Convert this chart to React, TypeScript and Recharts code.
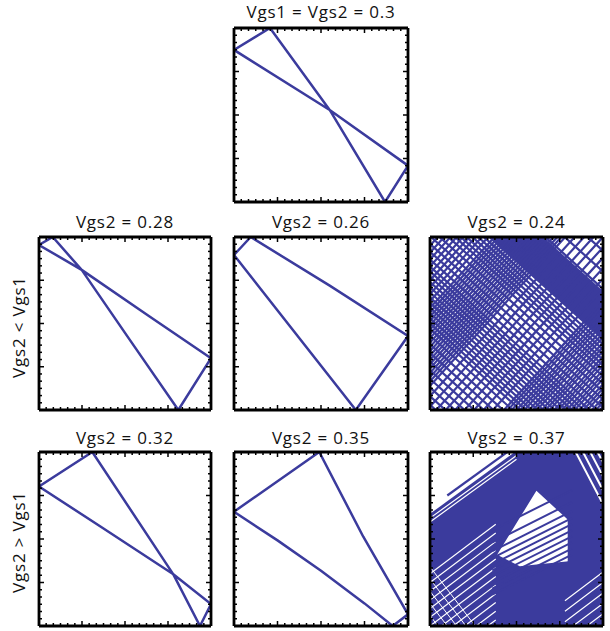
import { Area, ComposedChart, Line, XAxis, YAxis } from 'recharts'

const BLUE = '#3b3b9d'
const FONT = '"Open Sans", sans-serif'

// 24 small tick divisions on each side, every 6th one longer
const MINOR_TICKS = Array.from({ length: 25 }, (_, i) => i / 24)

// stable cases: closed orbit [x, y] on the normalised axes
const ORBIT_030 = [[0, 0.874], [0.207, 1], [0.55, 0.529], [0.868, 0], [1, 0.209], [0.55, 0.529], [0, 0.874]]
const ORBIT_028 = [[0, 0.954], [0.08, 1], [0.248, 0.81], [0.522, 0.414], [0.81, 0], [1, 0.299], [0.645, 0.539], [0.248, 0.81], [0, 0.954]]
const ORBIT_026 = [[0, 0.896], [0.096, 1], [0.55, 0.719], [1, 0.428], [0.7, 0], [0, 0.896]]
const ORBIT_032 = [[0, 0.802], [0.31, 1], [0.781, 0.297], [0.936, 0], [1, 0.126], [0.781, 0.297], [0.355, 0.573], [0, 0.802]]
const ORBIT_035 = [[0, 0.657], [0.49, 1], [0.743, 0.513], [1, 0.067], [0.912, 0], [0.75, 0.13], [0.5, 0.317], [0.25, 0.492], [0, 0.657]]

// Vgs2 = 0.24: intercepts of the falling (slope -0.9) and rising (slope 1.1) traces
const FALLING_024 = [
  0.03, 0.08, 0.13, 0.18, 0.23, 0.28, 0.33, 0.38, 0.43,
  0.47, 0.5, 0.53, 0.56, 0.59, 0.62, 0.65, 0.68, 0.71, 0.74, 0.77, 0.8, 0.83,
  0.87, 0.915, 0.96, 1.005, 1.05, 1.095,
  1.13, 1.16, 1.19, 1.22, 1.25, 1.28,
  1.31, 1.325, 1.34, 1.355, 1.37, 1.385, 1.4, 1.415, 1.43, 1.445, 1.46, 1.475, 1.49, 1.505,
  1.52, 1.535, 1.55, 1.565, 1.58, 1.6,
  1.7, 1.82,
]
const RISING_024 = [
  -1.08, -1.055, -1.03, -1.0, -0.975, -0.95, -0.92, -0.895, -0.87, -0.84, -0.815, -0.79,
  -0.76, -0.735, -0.71, -0.68, -0.655, -0.63, -0.6, -0.575, -0.55, -0.52, -0.495, -0.47,
  -0.4, -0.34, -0.28, -0.22, -0.16, -0.1, -0.04, 0.02, 0.08,
  0.14, 0.165, 0.19, 0.215, 0.24, 0.265, 0.29, 0.315, 0.34, 0.365, 0.39, 0.415, 0.44,
  0.465, 0.49, 0.515, 0.54, 0.565, 0.59,
  0.63, 0.67, 0.71, 0.75, 0.79, 0.83, 0.87, 0.91, 0.95,
]

// Vgs2 = 0.37: covered region [x, low, high] and the empty core
const COVER_037 = [[0, 0, 0.645], [0.49, 0, 1], [1, 0, 1]]
const CORE_037 = [[0.388, 0.41, 0.41], [0.519, 0.343, 0.622], [0.615, 0.353, 0.777], [0.788, 0.371, 0.619], [0.796, 0.372, 0.61]]
const EDGE_037 = [0.678]
const EDGE_GAPS_037 = [0.62, 0.598]
const LOWLEFT_GAPS_037 = [-0.3, -0.25, -0.2, -0.15, -0.1, -0.05, 0.0, 0.05, 0.1, 0.15, 0.2, 0.25, 0.3]
const LOWLEFT_CROSS_037 = [0.06, 0.13, 0.2, 0.27, 0.34]
const UPRIGHT_GAPS_037 = [2.6, 2.68, 2.76, 2.84, 2.92]
const LOWRIGHT_GAPS_037 = [-0.68, -0.62, -0.56, -0.5, -0.44]
const CORE_TRACES_037 = [0, 0.035, 0.07, 0.105, 0.14, 0.175, 0.21, 0.25, 0.3, 0.37]

type Pt = { x: number; y: number | null }

const polyline = (pts: number[][]): Pt[] => pts.map(([x, y]) => ({ x, y }))

// straight traces y = c + slope * x, broken apart with a null
const traces = (cs: number[], slope: number, x0 = -0.3, x1 = 1.3): Pt[] =>
  cs.flatMap((c) => [
    { x: x0, y: c + slope * x0 },
    { x: x1, y: c + slope * x1 },
    { x: x1, y: null },
  ])

const band = (pts: number[][]) => pts.map(([x, lo, hi]) => ({ x, r: [lo, hi] }))

const AX = { xAxisId: 'b', yAxisId: 'l' }
const M = 4

type Side = 'bottom' | 'top' | 'left' | 'right'

// inward tick mark, longer at quarters
const tickMark = (side: Side) => (p: any) => {
  const v = p.payload.value
  const len = Math.abs(v * 4 - Math.round(v * 4)) < 1e-6 ? 5 : 3
  const { x, y } = p
  const end =
    side === 'bottom' ? [x, y - len] : side === 'top' ? [x, y + len] : side === 'left' ? [x + len, y] : [x - len, y]
  return <line x1={x} y1={y} x2={end[0]} y2={end[1]} stroke="#000" strokeWidth={1.5} />
}

function frame() {
  const common = {
    type: 'number' as const,
    domain: [0, 1],
    allowDataOverflow: true,
    mirror: true,
    ticks: MINOR_TICKS,
    interval: 0,
    tickSize: 0,
    tickMargin: 0,
    tickLine: false,
    axisLine: { stroke: '#000', strokeWidth: 2.8 },
  }
  return [
    <XAxis key="b" xAxisId="b" dataKey="x" orientation="bottom" tick={tickMark('bottom')} {...common} />,
    <XAxis key="t" xAxisId="t" dataKey="x" orientation="top" tick={tickMark('top')} {...common} />,
    <YAxis key="l" yAxisId="l" orientation="left" tick={tickMark('left')} {...common} />,
    <YAxis key="r" yAxisId="r" orientation="right" tick={tickMark('right')} {...common} />,
  ]
}

function trace(key: string, data: Pt[], color = BLUE, width = 2.5) {
  return (
    <Line
      key={key}
      {...AX}
      data={data}
      dataKey="y"
      type="linear"
      stroke={color}
      strokeWidth={width}
      strokeLinejoin="round"
      dot={false}
      activeDot={false}
      connectNulls={false}
      isAnimationActive={false}
    />
  )
}

function fill(key: string, data: { x: number; r: number[] }[], color: string) {
  return (
    <Area
      key={key}
      {...AX}
      data={data}
      dataKey="r"
      type="linear"
      stroke="none"
      fill={color}
      fillOpacity={1}
      activeDot={false}
      isAnimationActive={false}
    />
  )
}

type PanelProps = { x: number; y: number; w: number; h: number; title: string; titleTop: number; series: React.ReactNode[] }

function Panel({ x, y, w, h, title, titleTop, series }: PanelProps) {
  return (
    <>
      <div
        style={{
          position: 'absolute', left: x - 40, top: titleTop, width: w + 80, textAlign: 'center',
          fontFamily: FONT, fontSize: 17, letterSpacing: 0.8, lineHeight: 'normal', color: '#111', whiteSpace: 'nowrap',
        }}
      >
        {title}
      </div>
      <div style={{ position: 'absolute', left: x - M, top: y - M }}>
        <ComposedChart width={w + 2 * M} height={h + 2 * M} margin={{ top: M, right: M, bottom: M, left: M }}>
          {frame()}
          {series}
        </ComposedChart>
      </div>
    </>
  )
}

function SideLabel({ text, cy }: { text: string; cy: number }) {
  return (
    <div
      style={{
        position: 'absolute', left: 18.6 - 70, top: cy - 12, width: 140, height: 24, lineHeight: '24px',
        textAlign: 'center', transform: 'rotate(-90deg)', fontFamily: FONT, fontSize: 17, letterSpacing: 0.8,
        color: '#111', whiteSpace: 'nowrap',
      }}
    >
      {text}
    </div>
  )
}

export default function App() {
  const dense024 = [
    trace('f', traces(FALLING_024, -0.9), BLUE, 2.2),
    trace('r', traces(RISING_024, 1.1), BLUE, 2.2),
  ]
  const dense037 = [
    fill('cover', band(COVER_037), BLUE),
    fill('core', band(CORE_037), '#fff'),
    trace('eg', traces(EDGE_GAPS_037, 0.72, 0, 0.5), '#fff', 1.2),
    trace('ll', traces(LOWLEFT_GAPS_037, 0.75, 0, 0.38), '#fff', 1.2),
    trace('lx', traces(LOWLEFT_CROSS_037, -1.3, 0, 0.36), '#fff', 1),
    trace('ur', traces(UPRIGHT_GAPS_037, -1.9, 0.78, 1.1), '#fff', 2),
    trace('lr', traces(LOWRIGHT_GAPS_037, 0.75, 0.78, 1.1), '#fff', 1.2),
    trace('edge', traces(EDGE_037, 0.72, 0.1, 0.5), BLUE, 2.2),
    trace('core', traces(CORE_TRACES_037, 0.5, 0.36, 0.82), BLUE, 2),
  ]

  return (
    <div style={{ position: 'absolute', left: 0, top: 0, width: 610, height: 631, background: '#fff' }}>
      <Panel x={234} y={28} w={174} h={174} titleTop={0} title="Vgs1 = Vgs2 = 0.3" series={[trace('o', polyline(ORBIT_030))]} />

      <Panel x={39} y={237} w={172} h={173} titleTop={210} title="Vgs2 = 0.28" series={[trace('o', polyline(ORBIT_028))]} />
      <Panel x={234} y={237} w={174} h={173} titleTop={210} title="Vgs2 = 0.26" series={[trace('o', polyline(ORBIT_026))]} />
      <Panel x={430} y={237} w={173} h={173} titleTop={210} title="Vgs2 = 0.24" series={dense024} />

      <Panel x={39} y={452} w={172} h={174} titleTop={426} title="Vgs2 = 0.32" series={[trace('o', polyline(ORBIT_032))]} />
      <Panel x={234} y={452} w={174} h={174} titleTop={426} title="Vgs2 = 0.35" series={[trace('o', polyline(ORBIT_035))]} />
      <Panel x={430} y={452} w={173} h={174} titleTop={426} title="Vgs2 = 0.37" series={dense037} />

      <SideLabel text="Vgs2 < Vgs1" cy={327} />
      <SideLabel text="Vgs2 > Vgs1" cy={542} />
    </div>
  )
}
